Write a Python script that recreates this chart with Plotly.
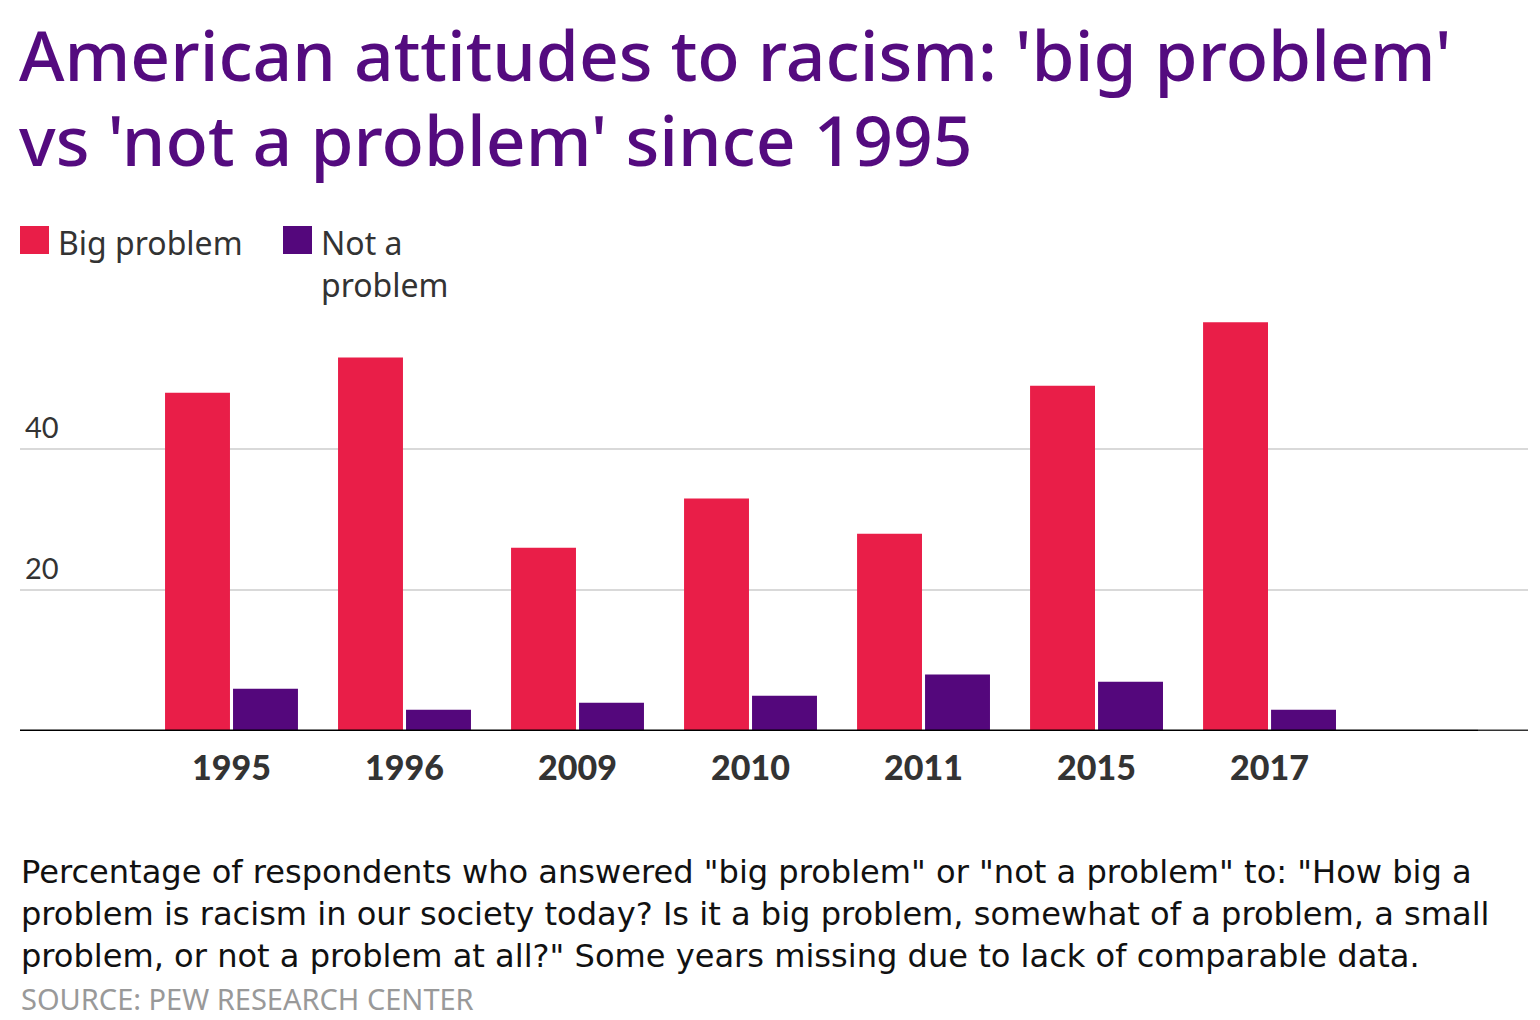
import plotly.graph_objects as go

years = ["1995", "1996", "2009", "2010", "2011", "2015", "2017"]
big_problem = [48, 53, 26, 33, 28, 49, 58]
not_a_problem = [6, 3, 4, 5, 8, 7, 3]
y_ticks = [20, 40]
series_names = ["Big problem", "Not a<br>problem"]

RED = "#e91e48"
PURPLE = "#54077c"
TITLE_PURPLE = "#540b7f"
TEXT = "#333333"

OFF = 8  # page body margin
W, H = 1540, 1020
L, R = 20 - OFF, 20
T, B = 294 - OFF, H - (731 - OFF)
PW, PH = W - L - R, H - T - B


def px(x):
    return (x - OFF - L) / PW


def py(y):
    return (H - B - (y - OFF)) / PH


fig = go.Figure()
fig.add_trace(go.Bar(x=years, y=big_problem, name="Big problem", marker_color=RED,
                     marker_line_width=0, showlegend=False))
fig.add_trace(go.Bar(x=years, y=not_a_problem, name="Not a problem", marker_color=PURPLE,
                     marker_line_width=0, showlegend=False))

ann = []
title_font = dict(family="Noto Sans", size=69.5, color=TITLE_PURPLE, weight=500)
ann.append(dict(text="American attitudes to racism: 'big problem'", x=px(17), y=py(54),
                xref="paper", yref="paper", xanchor="left", yanchor="middle", showarrow=False,
                font=title_font))
ann.append(dict(text="vs 'not a problem' since 1995", x=px(17), y=py(139),
                xref="paper", yref="paper", xanchor="left", yanchor="middle", showarrow=False,
                font=title_font))

shapes = []
legend_items = [(20, RED, series_names[0]), (283, PURPLE, series_names[1])]
for x0, col, name in legend_items:
    shapes.append(dict(type="rect", xref="paper", yref="paper", x0=px(x0), x1=px(x0 + 29),
                       y0=py(254), y1=py(226), fillcolor=col, line_width=0))
    ann.append(dict(text=name, x=px(x0 + 36), y=py(219), xref="paper", yref="paper",
                    xanchor="left", yanchor="top", align="left", showarrow=False,
                    font=dict(family="Noto Sans", size=32, color=TEXT)))

for v in y_ticks:
    ann.append(dict(text=str(v), x=px(23), y=v, xref="paper", yref="y", xanchor="left",
                    yanchor="bottom", yshift=3, showarrow=False,
                    font=dict(family="Lato", size=29, color=TEXT)))

shapes.append(dict(type="line", xref="paper", yref="y", x0=0, x1=px(1478), y0=0, y1=0,
                   line=dict(color="#000000", width=3)))
shapes.append(dict(type="line", xref="paper", yref="y", x0=px(1478), x1=1, y0=0, y1=0,
                   line=dict(color="#333333", width=3)))

caption = [
    "Percentage of respondents who answered \"big problem\" or \"not a problem\" to: \"How big a",
    "problem is racism in our society today? Is it a big problem, somewhat of a problem, a small",
    "problem, or not a problem at all?\" Some years missing due to lack of comparable data.",
]
for i, line in enumerate(caption):
    ann.append(dict(text=line, x=px(19), y=py(872 + 42 * i), xref="paper", yref="paper",
                    xanchor="left", yanchor="middle", showarrow=False,
                    font=dict(family="DejaVu Sans", size=32.1, color="#111111")))
ann.append(dict(text="SOURCE: PEW RESEARCH CENTER", x=px(19), y=py(998), xref="paper", yref="paper",
                xanchor="left", yanchor="middle", showarrow=False,
                font=dict(family="Noto Sans", size=29, color="#999999")))

fig.update_layout(
    width=W, height=H,
    margin=dict(l=L, r=R, t=T, b=B),
    paper_bgcolor="white", plot_bgcolor="white",
    barmode="group", bargap=0.214, bargroupgap=0.045,
    showlegend=False,
    annotations=ann, shapes=shapes,
    xaxis=dict(type="category", range=[-1.2225, 7.494], showgrid=False, showline=False,
               zeroline=False, ticks="", ticklabelstandoff=14,
               tickfont=dict(family="Lato", size=34, color=TEXT, weight=900)),
    yaxis=dict(range=[0, 62], tickvals=y_ticks, showticklabels=False, showgrid=True,
               gridcolor="#d9d9d9", gridwidth=2, zeroline=False, showline=False),
)

fig.write_html("out.html")
